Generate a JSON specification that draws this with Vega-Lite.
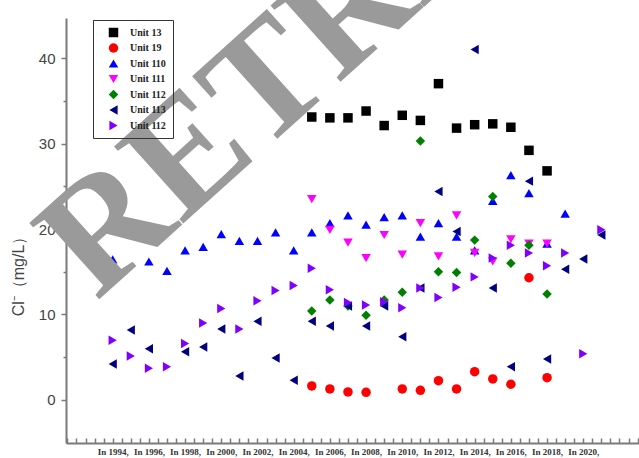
{
  "$schema": "https://vega.github.io/schema/vega-lite/v6.json",
  "width": 573,
  "height": 425,
  "autosize": {"type": "none"},
  "padding": {"left": 66, "top": 18, "right": 0, "bottom": 15},
  "background": "white",
  "config": {
    "view": {"stroke": null},
    "font": "Liberation Sans"
  },
  "datasets": {
    "chloride": [
      {"unit": "Unit 13", "year": 2005, "cl": 33.1},
      {"unit": "Unit 13", "year": 2006, "cl": 33.0},
      {"unit": "Unit 13", "year": 2007, "cl": 33.0},
      {"unit": "Unit 13", "year": 2008, "cl": 33.8},
      {"unit": "Unit 13", "year": 2009, "cl": 32.1},
      {"unit": "Unit 13", "year": 2010, "cl": 33.3},
      {"unit": "Unit 13", "year": 2011, "cl": 32.7},
      {"unit": "Unit 13", "year": 2012, "cl": 37.0},
      {"unit": "Unit 13", "year": 2013, "cl": 31.8},
      {"unit": "Unit 13", "year": 2014, "cl": 32.2},
      {"unit": "Unit 13", "year": 2015, "cl": 32.3},
      {"unit": "Unit 13", "year": 2016, "cl": 31.9},
      {"unit": "Unit 13", "year": 2017, "cl": 29.2},
      {"unit": "Unit 13", "year": 2018, "cl": 26.8},

      {"unit": "Unit 19", "year": 2005, "cl": 1.64},
      {"unit": "Unit 19", "year": 2006, "cl": 1.29},
      {"unit": "Unit 19", "year": 2007, "cl": 0.94},
      {"unit": "Unit 19", "year": 2008, "cl": 0.9},
      {"unit": "Unit 19", "year": 2010, "cl": 1.29},
      {"unit": "Unit 19", "year": 2011, "cl": 1.13},
      {"unit": "Unit 19", "year": 2012, "cl": 2.26},
      {"unit": "Unit 19", "year": 2013, "cl": 1.29},
      {"unit": "Unit 19", "year": 2014, "cl": 3.31},
      {"unit": "Unit 19", "year": 2015, "cl": 2.46},
      {"unit": "Unit 19", "year": 2016, "cl": 1.84},
      {"unit": "Unit 19", "year": 2017, "cl": 14.3},
      {"unit": "Unit 19", "year": 2018, "cl": 2.61},

      {"unit": "Unit 110", "year": 1994, "cl": 16.45},
      {"unit": "Unit 110", "year": 1996, "cl": 16.2},
      {"unit": "Unit 110", "year": 1997, "cl": 15.1},
      {"unit": "Unit 110", "year": 1998, "cl": 17.5},
      {"unit": "Unit 110", "year": 1999, "cl": 17.9},
      {"unit": "Unit 110", "year": 2000, "cl": 19.4},
      {"unit": "Unit 110", "year": 2001, "cl": 18.6},
      {"unit": "Unit 110", "year": 2002, "cl": 18.6},
      {"unit": "Unit 110", "year": 2003, "cl": 19.6},
      {"unit": "Unit 110", "year": 2004, "cl": 17.5},
      {"unit": "Unit 110", "year": 2005, "cl": 19.6},
      {"unit": "Unit 110", "year": 2006, "cl": 20.7},
      {"unit": "Unit 110", "year": 2007, "cl": 21.6},
      {"unit": "Unit 110", "year": 2008, "cl": 20.5},
      {"unit": "Unit 110", "year": 2009, "cl": 21.4},
      {"unit": "Unit 110", "year": 2010, "cl": 21.6},
      {"unit": "Unit 110", "year": 2011, "cl": 19.1},
      {"unit": "Unit 110", "year": 2012, "cl": 20.7},
      {"unit": "Unit 110", "year": 2013, "cl": 19.1},
      {"unit": "Unit 110", "year": 2014, "cl": 17.5},
      {"unit": "Unit 110", "year": 2015, "cl": 23.3},
      {"unit": "Unit 110", "year": 2016, "cl": 26.3},
      {"unit": "Unit 110", "year": 2017, "cl": 24.2},
      {"unit": "Unit 110", "year": 2018, "cl": 18.3},
      {"unit": "Unit 110", "year": 2019, "cl": 21.8},

      {"unit": "Unit 111", "year": 2005, "cl": 23.5},
      {"unit": "Unit 111", "year": 2006, "cl": 19.9},
      {"unit": "Unit 111", "year": 2007, "cl": 18.4},
      {"unit": "Unit 111", "year": 2008, "cl": 16.6},
      {"unit": "Unit 111", "year": 2009, "cl": 19.3},
      {"unit": "Unit 111", "year": 2010, "cl": 17.0},
      {"unit": "Unit 111", "year": 2011, "cl": 20.7},
      {"unit": "Unit 111", "year": 2012, "cl": 16.8},
      {"unit": "Unit 111", "year": 2013, "cl": 21.6},
      {"unit": "Unit 111", "year": 2014, "cl": 17.2},
      {"unit": "Unit 111", "year": 2015, "cl": 16.2},
      {"unit": "Unit 111", "year": 2016, "cl": 18.8},
      {"unit": "Unit 111", "year": 2017, "cl": 18.3},
      {"unit": "Unit 111", "year": 2018, "cl": 18.3},

      {"unit": "Unit 112", "year": 2005, "cl": 10.4},
      {"unit": "Unit 112", "year": 2006, "cl": 11.7},
      {"unit": "Unit 112", "year": 2007, "cl": 11.0},
      {"unit": "Unit 112", "year": 2008, "cl": 9.9},
      {"unit": "Unit 112", "year": 2009, "cl": 11.7},
      {"unit": "Unit 112", "year": 2010, "cl": 12.6},
      {"unit": "Unit 112", "year": 2011, "cl": 30.3},
      {"unit": "Unit 112", "year": 2012, "cl": 15.0},
      {"unit": "Unit 112", "year": 2013, "cl": 14.9},
      {"unit": "Unit 112", "year": 2014, "cl": 18.7},
      {"unit": "Unit 112", "year": 2015, "cl": 23.8},
      {"unit": "Unit 112", "year": 2016, "cl": 16.0},
      {"unit": "Unit 112", "year": 2017, "cl": 18.1},
      {"unit": "Unit 112", "year": 2018, "cl": 12.4},

      {"unit": "Unit 113", "year": 1994, "cl": 4.2},
      {"unit": "Unit 113", "year": 1995, "cl": 8.2},
      {"unit": "Unit 113", "year": 1996, "cl": 6.0},
      {"unit": "Unit 113", "year": 1998, "cl": 5.65},
      {"unit": "Unit 113", "year": 1999, "cl": 6.2},
      {"unit": "Unit 113", "year": 2000, "cl": 8.3},
      {"unit": "Unit 113", "year": 2001, "cl": 2.8},
      {"unit": "Unit 113", "year": 2002, "cl": 9.2},
      {"unit": "Unit 113", "year": 2003, "cl": 4.9},
      {"unit": "Unit 113", "year": 2004, "cl": 2.3},
      {"unit": "Unit 113", "year": 2005, "cl": 9.2},
      {"unit": "Unit 113", "year": 2006, "cl": 8.65},
      {"unit": "Unit 113", "year": 2007, "cl": 11.0},
      {"unit": "Unit 113", "year": 2008, "cl": 8.65},
      {"unit": "Unit 113", "year": 2009, "cl": 11.0},
      {"unit": "Unit 113", "year": 2010, "cl": 7.4},
      {"unit": "Unit 113", "year": 2011, "cl": 13.1},
      {"unit": "Unit 113", "year": 2012, "cl": 24.4},
      {"unit": "Unit 113", "year": 2013, "cl": 19.7},
      {"unit": "Unit 113", "year": 2014, "cl": 41.0},
      {"unit": "Unit 113", "year": 2015, "cl": 13.1},
      {"unit": "Unit 113", "year": 2016, "cl": 3.9},
      {"unit": "Unit 113", "year": 2017, "cl": 25.6},
      {"unit": "Unit 113", "year": 2018, "cl": 4.8},
      {"unit": "Unit 113", "year": 2019, "cl": 15.3},
      {"unit": "Unit 113", "year": 2020, "cl": 16.5},
      {"unit": "Unit 113", "year": 2021, "cl": 19.3},

      {"unit": "Unit 112 (2)", "year": 1994, "cl": 7.0},
      {"unit": "Unit 112 (2)", "year": 1995, "cl": 5.15},
      {"unit": "Unit 112 (2)", "year": 1996, "cl": 3.7},
      {"unit": "Unit 112 (2)", "year": 1997, "cl": 3.9},
      {"unit": "Unit 112 (2)", "year": 1998, "cl": 6.6},
      {"unit": "Unit 112 (2)", "year": 1999, "cl": 9.0},
      {"unit": "Unit 112 (2)", "year": 2000, "cl": 10.7},
      {"unit": "Unit 112 (2)", "year": 2001, "cl": 8.3},
      {"unit": "Unit 112 (2)", "year": 2002, "cl": 11.6},
      {"unit": "Unit 112 (2)", "year": 2003, "cl": 12.8},
      {"unit": "Unit 112 (2)", "year": 2004, "cl": 13.4},
      {"unit": "Unit 112 (2)", "year": 2005, "cl": 15.4},
      {"unit": "Unit 112 (2)", "year": 2006, "cl": 12.9},
      {"unit": "Unit 112 (2)", "year": 2007, "cl": 11.4},
      {"unit": "Unit 112 (2)", "year": 2008, "cl": 11.1},
      {"unit": "Unit 112 (2)", "year": 2009, "cl": 11.5},
      {"unit": "Unit 112 (2)", "year": 2010, "cl": 10.8},
      {"unit": "Unit 112 (2)", "year": 2011, "cl": 13.1},
      {"unit": "Unit 112 (2)", "year": 2012, "cl": 12.0},
      {"unit": "Unit 112 (2)", "year": 2013, "cl": 13.2},
      {"unit": "Unit 112 (2)", "year": 2014, "cl": 14.4},
      {"unit": "Unit 112 (2)", "year": 2015, "cl": 16.6},
      {"unit": "Unit 112 (2)", "year": 2016, "cl": 18.1},
      {"unit": "Unit 112 (2)", "year": 2017, "cl": 17.2},
      {"unit": "Unit 112 (2)", "year": 2018, "cl": 15.7},
      {"unit": "Unit 112 (2)", "year": 2019, "cl": 17.2},
      {"unit": "Unit 112 (2)", "year": 2020, "cl": 5.4},
      {"unit": "Unit 112 (2)", "year": 2021, "cl": 19.9}
    ],
    "stamp": [
      {"text": "RETRACTED", "year": 1993.1, "cl": 11.5}
    ]
  },
  "encoding": {
    "x": {
      "field": "year",
      "type": "quantitative",
      "scale": {"domain": [1991.42, 2023.08], "nice": false, "zero": false},
      "axis": {
        "title": null,
        "grid": false,
        "values": [1991.5, 1992, 1992.5, 1993, 1993.5, 1994, 1994.5, 1995, 1995.5, 1996, 1996.5, 1997, 1997.5, 1998, 1998.5, 1999, 1999.5, 2000, 2000.5, 2001, 2001.5, 2002, 2002.5, 2003, 2003.5, 2004, 2004.5, 2005, 2005.5, 2006, 2006.5, 2007, 2007.5, 2008, 2008.5, 2009, 2009.5, 2010, 2010.5, 2011, 2011.5, 2012, 2012.5, 2013, 2013.5, 2014, 2014.5, 2015, 2015.5, 2016, 2016.5, 2017, 2017.5, 2018, 2018.5, 2019, 2019.5, 2020, 2020.5, 2021, 2021.5, 2022, 2022.5, 2023],
        "labelExpr": "datum.value % 2 === 0 && datum.value >= 1994 && datum.value <= 2020 ? 'In ' + datum.value + ',' : ''",
        "labelOverlap": false,
        "labelFlush": false,
        "labelFont": "Liberation Serif",
        "labelFontWeight": "bold",
        "labelFontSize": 9,
        "labelColor": "#333333",
        "labelPadding": 9,
        "labelBaseline": "top",
        "domainColor": "#7a7a7a",
        "domainWidth": 2,
        "tickColor": "#7a7a7a",
        "tickWidth": 1.5,
        "tickSize": -5
      }
    },
    "y": {
      "field": "cl",
      "type": "quantitative",
      "scale": {"domain": [-5.03, 44.68], "nice": false, "zero": false},
      "axis": {
        "title": "Cl⁻（mg/L）",
        "titleFont": "Liberation Sans",
        "titleFontSize": 16,
        "titleFontWeight": "normal",
        "titleColor": "#444444",
        "titleX": -48,
        "titleY": 254,
        "titleAngle": -90,
        "titleAlign": "center",
        "titleBaseline": "middle",
        "grid": false,
        "values": [0, 5, 10, 15, 20, 25, 30, 35, 40],
        "labelExpr": "datum.value % 10 === 0 ? datum.value : ''",
        "labelFont": "Liberation Sans",
        "labelFontSize": 15,
        "labelColor": "#444444",
        "labelPadding": 6,
        "domainColor": "#7a7a7a",
        "domainWidth": 2,
        "tickColor": "#7a7a7a",
        "tickWidth": 1.5,
        "tickSize": {"condition": {"test": "datum.value % 10 === 0", "value": 5}, "value": 3}
      }
    }
  },
  "layer": [
    {
      "data": {"name": "chloride"},
      "mark": {"type": "point", "filled": true, "opacity": 1, "size": 90, "strokeWidth": 0},
      "encoding": {
        "color": {
          "field": "unit",
          "type": "nominal",
          "scale": {
            "domain": ["Unit 13", "Unit 19", "Unit 110", "Unit 111", "Unit 112", "Unit 113", "Unit 112 (2)"],
            "range": ["#000000", "#ff0000", "#0000ff", "#ff00ff", "#008000", "#000080", "#8000ff"]
          },
          "legend": {
            "title": null,
            "orient": "none",
            "legendX": 27,
            "legendY": 2,
            "strokeColor": "#333333",
            "padding": 7,
            "symbolOffset": 8,
            "symbolSize": 90,
            "labelFont": "Liberation Serif",
            "labelFontWeight": "bold",
            "labelFontSize": 10,
            "labelColor": "#222222",
            "labelOffset": 11,
            "rowPadding": 4.5,
            "labelExpr": "replace(datum.label, ' (2)', '')"
          }
        },
        "shape": {
          "field": "unit",
          "type": "nominal",
          "scale": {
            "domain": ["Unit 13", "Unit 19", "Unit 110", "Unit 111", "Unit 112", "Unit 113", "Unit 112 (2)"],
            "range": ["square", "circle", "triangle-up", "triangle-down", "diamond", "triangle-left", "triangle-right"]
          },
          "legend": {
            "title": null,
            "orient": "none",
            "legendX": 27,
            "legendY": 2,
            "strokeColor": "#333333",
            "padding": 7,
            "symbolOffset": 8,
            "symbolSize": 90,
            "labelFont": "Liberation Serif",
            "labelFontWeight": "bold",
            "labelFontSize": 10,
            "labelColor": "#222222",
            "labelOffset": 11,
            "rowPadding": 4.5,
            "labelExpr": "replace(datum.label, ' (2)', '')"
          }
        }
      }
    },
    {
      "data": {"name": "stamp"},
      "mark": {
        "type": "text",
        "font": "Liberation Serif",
        "fontWeight": "bold",
        "fontSize": 158,
        "angle": 318,
        "align": "left",
        "baseline": "alphabetic",
        "color": "#9a9a9a"
      },
      "encoding": {
        "text": {"field": "text"}
      }
    }
  ]
}
